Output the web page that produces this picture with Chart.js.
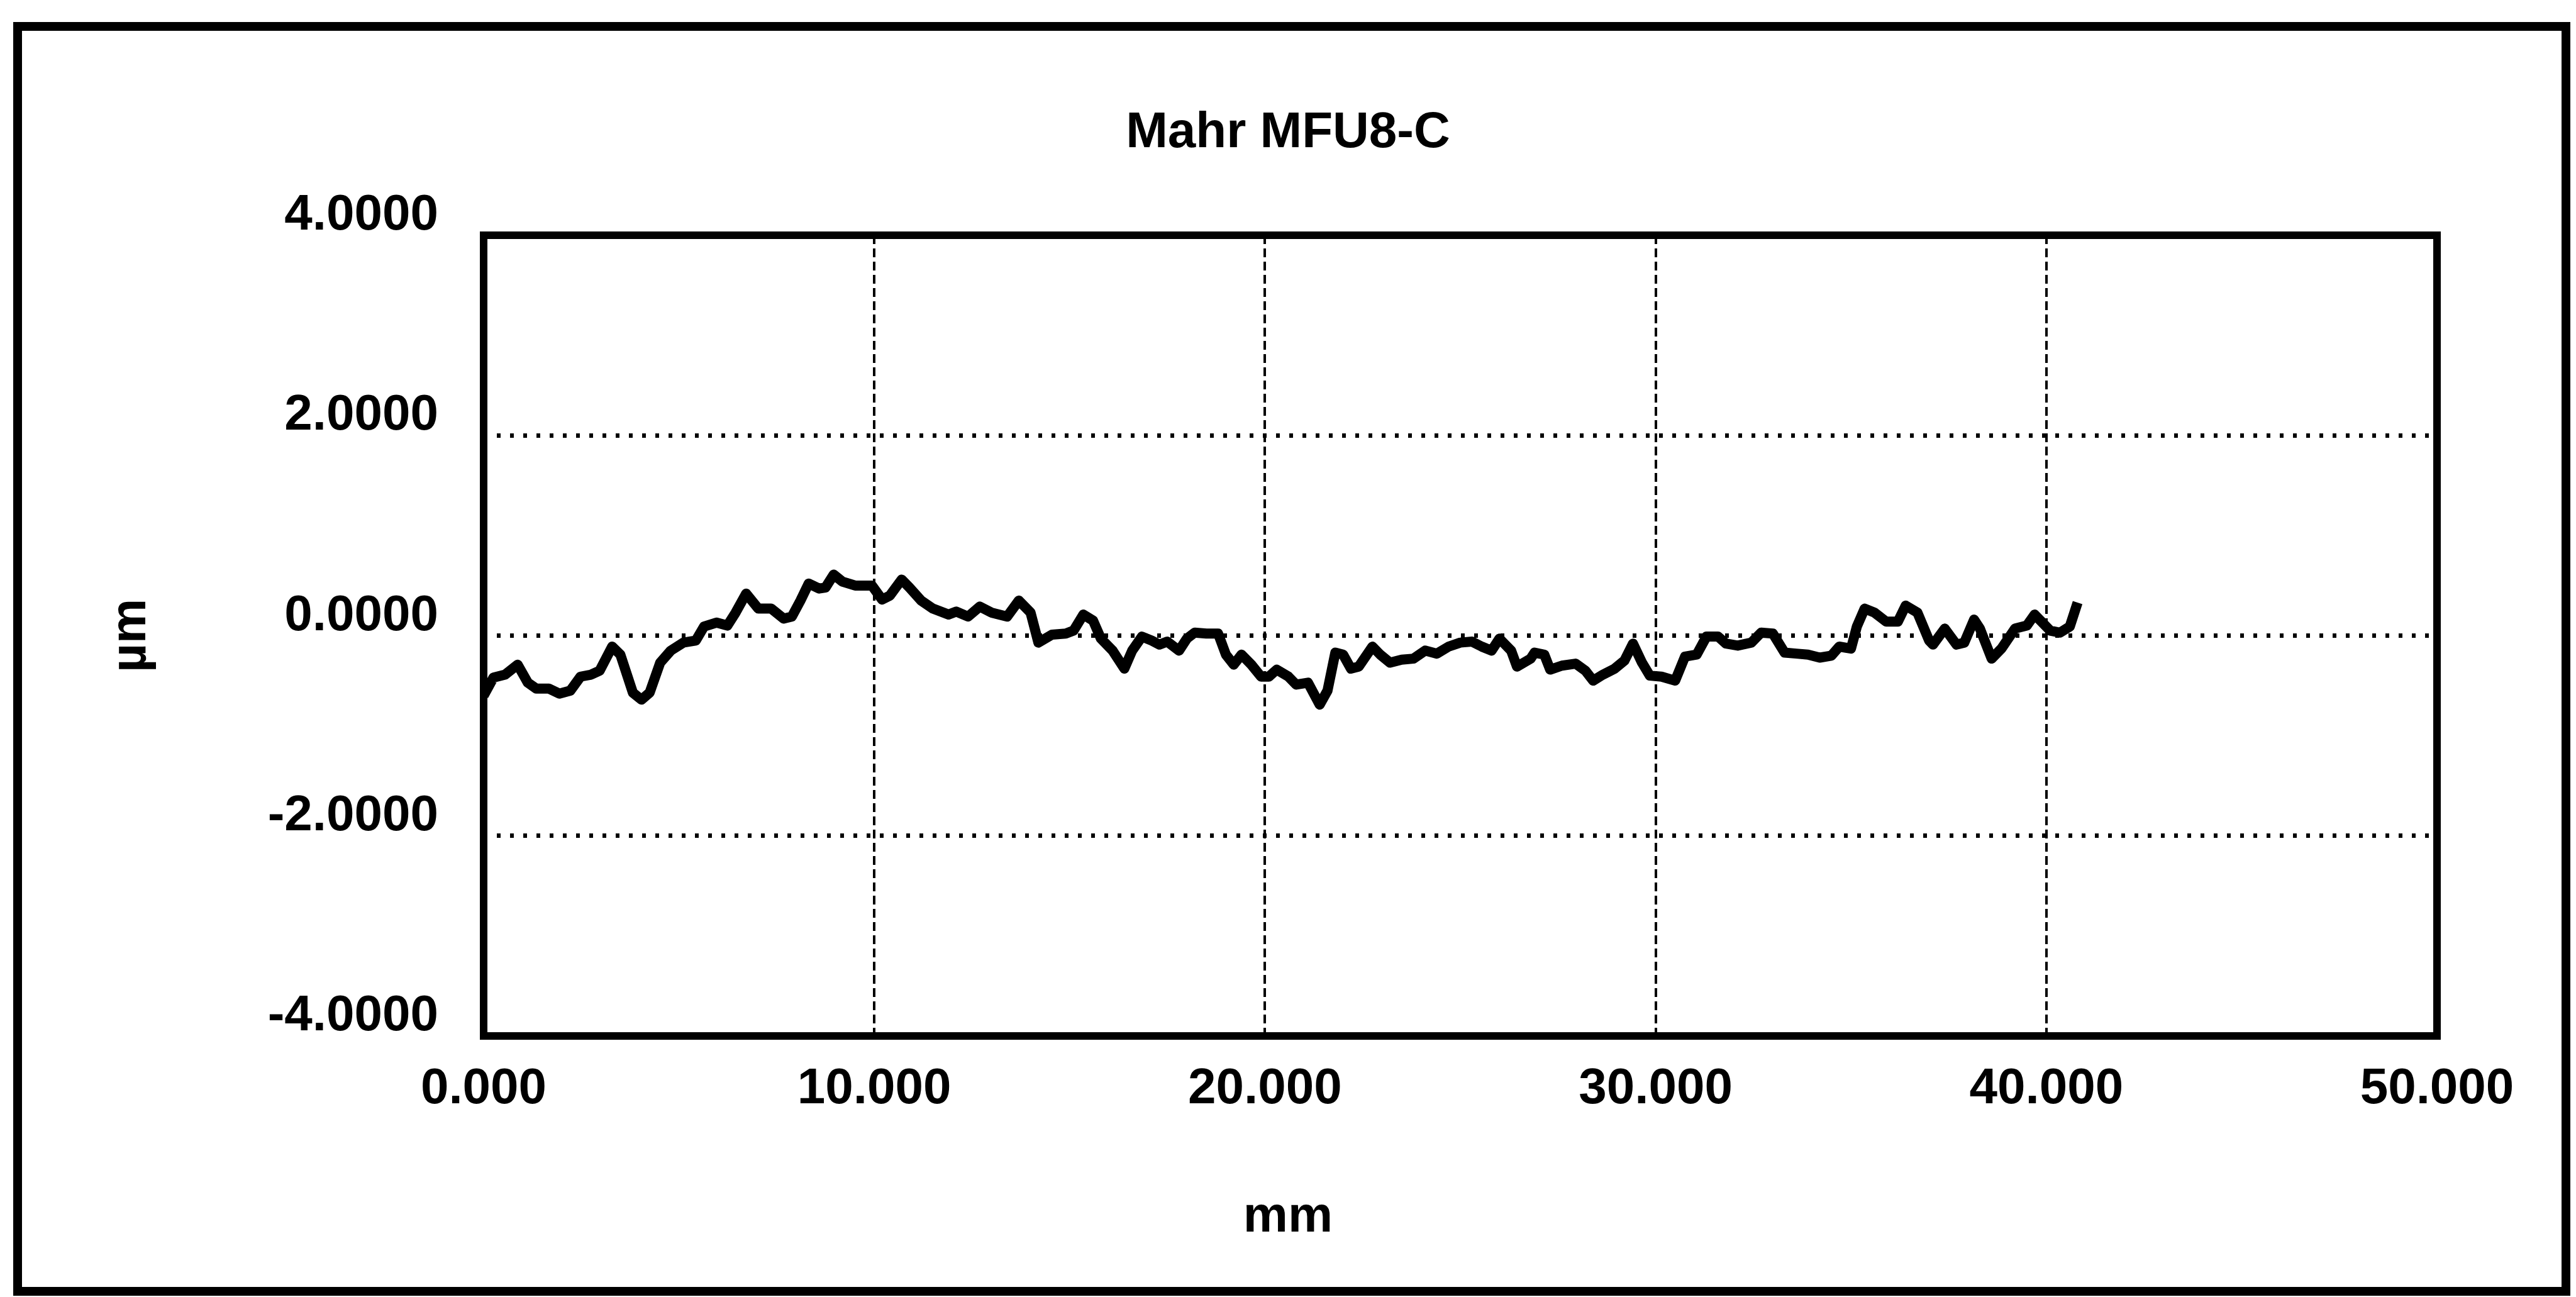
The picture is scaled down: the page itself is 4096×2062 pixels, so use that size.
<!DOCTYPE html>
<html>
<head>
<meta charset="utf-8">
<title>Mahr MFU8-C</title>
<script src="https://cdn.jsdelivr.net/npm/chart.js@4.4.1/dist/chart.umd.min.js"></script>
<style>
  html, body { margin: 0; padding: 0; background: #fff; }
  #wrap { width: 4096px; height: 2062px; }
</style>
</head>
<body>
<div id="wrap"><canvas id="profileChart" width="4096" height="2062"></canvas></div>
<script>
// profile data (mm / µm)
const posMm = [
  0.00, 0.25, 0.55, 0.87, 1.13, 1.35, 1.67, 1.94, 2.22, 2.48,
  2.75, 2.97, 3.29, 3.50, 3.82, 4.04, 4.25, 4.52, 4.79, 5.11,
  5.43, 5.64, 5.96, 6.24, 6.45, 6.72, 7.03, 7.36, 7.68, 7.89,
  8.11, 8.32, 8.59, 8.75, 8.96, 9.18, 9.51, 9.94, 10.20, 10.40,
  10.70, 10.90, 11.20, 11.50, 11.90, 12.10, 12.40, 12.70, 13.00, 13.40,
  13.70, 14.00, 14.20, 14.55, 14.90, 15.10, 15.35, 15.60, 15.80, 16.10,
  16.40, 16.60, 16.85, 17.10, 17.30, 17.50, 17.80, 18.00, 18.20, 18.50,
  18.80, 19.00, 19.20, 19.40, 19.65, 19.90, 20.10, 20.30, 20.60, 20.80,
  21.10, 21.40, 21.60, 21.80, 22.00, 22.20, 22.40, 22.75, 22.95, 23.20,
  23.50, 23.80, 24.10, 24.40, 24.70, 25.00, 25.30, 25.55, 25.80, 26.00,
  26.30, 26.45, 26.80, 26.90, 27.15, 27.30, 27.60, 27.95, 28.20, 28.40,
  28.65, 28.95, 29.20, 29.42, 29.65, 29.85, 30.15, 30.50, 30.75, 31.05,
  31.30, 31.60, 31.80, 32.10, 32.45, 32.70, 33.00, 33.30, 33.60, 33.90,
  34.20, 34.50, 34.70, 35.00, 35.15, 35.35, 35.60, 35.90, 36.20, 36.40,
  36.70, 37.00, 37.10, 37.40, 37.70, 37.90, 38.15, 38.30, 38.60, 38.85,
  39.20, 39.50, 39.70, 40.10, 40.35, 40.60, 40.80
];
const devUm = [
  -0.60, -0.42, -0.39, -0.29, -0.47, -0.53, -0.53, -0.58, -0.55, -0.41,
  -0.39, -0.35, -0.11, -0.19, -0.57, -0.64, -0.57, -0.27, -0.15, -0.07,
  -0.05, 0.09, 0.13, 0.10, 0.23, 0.42, 0.27, 0.27, 0.17, 0.19,
  0.35, 0.52, 0.47, 0.48, 0.61, 0.54, 0.50, 0.50, 0.36, 0.40,
  0.56, 0.48, 0.35, 0.27, 0.21, 0.24, 0.19, 0.29, 0.23, 0.19,
  0.35, 0.23, -0.07, 0.01, 0.02, 0.05, 0.21, 0.15, -0.03, -0.15,
  -0.33, -0.15, -0.01, -0.05, -0.09, -0.06, -0.15, -0.03, 0.03, 0.02,
  0.02, -0.19, -0.29, -0.19, -0.29, -0.41, -0.41, -0.34, -0.41, -0.49,
  -0.47, -0.69, -0.55, -0.17, -0.19, -0.33, -0.31, -0.11, -0.19, -0.27,
  -0.24, -0.23, -0.15, -0.18, -0.11, -0.07, -0.06, -0.11, -0.15, -0.03,
  -0.15, -0.31, -0.23, -0.17, -0.19, -0.34, -0.30, -0.28, -0.35, -0.45,
  -0.39, -0.33, -0.25, -0.08, -0.27, -0.40, -0.41, -0.45, -0.21, -0.19,
  -0.01, -0.01, -0.08, -0.10, -0.07, 0.03, 0.02, -0.17, -0.18, -0.19,
  -0.22, -0.20, -0.11, -0.13, 0.09, 0.27, 0.23, 0.14, 0.14, 0.30,
  0.23, -0.05, -0.09, 0.07, -0.09, -0.07, 0.16, 0.07, -0.23, -0.13,
  0.07, 0.10, 0.21, 0.05, 0.03, 0.09, 0.33
];
const xTicks = [0, 10, 20, 30, 40, 50];
const yTicks = [-4, -2, 0, 2, 4];

const FONT = 'Liberation Sans, Arial, Helvetica, sans-serif';
const txtFont = { family: FONT, size: 80, weight: 'bold' };

// borders: outer frame of the sheet and the plot box
const framePlugin = {
    id: 'frames',
    beforeDatasetsDraw(chart) {
        const { ctx, chartArea: a } = chart;
        ctx.save();
        ctx.strokeStyle = '#000';
        ctx.lineWidth = 12;
        ctx.strokeRect(a.left, a.top, a.right - a.left, a.bottom - a.top);
        ctx.restore();
    },
    afterDraw(chart) {
        const { ctx } = chart;
        ctx.save();
        ctx.strokeStyle = '#000';
        ctx.lineWidth = 14;
        ctx.strokeRect(28, 42, 4052, 2011);
        ctx.restore();
    }
};

const points = posMm.map((x, i) => ({ x: x, y: devUm[i] }));

const ctx = document.getElementById('profileChart').getContext('2d');
const profileChart = new Chart(ctx, {
    type: 'line',
    data: {
        datasets: [{
            label: 'Mahr MFU8-C',
            data: points,
            borderColor: '#000',
            borderWidth: 16,
            borderJoinStyle: 'round',
            pointRadius: 0,
            tension: 0,
            fill: false
        }]
    },
    options: {
        responsive: false,
        animation: false,
        devicePixelRatio: 1,
        layout: { padding: 0 },
        plugins: {
            legend: { display: false },
            tooltip: { enabled: false },
            title: {
                display: true,
                text: 'Mahr MFU8-C',
                color: '#000',
                font: txtFont,
                padding: { top: 164, bottom: 114 }
            },
            subtitle: {
                display: true,
                position: 'bottom',
                text: 'mm',
                color: '#000',
                font: txtFont,
                padding: { top: 41, bottom: 78 }
            }
        },
        scales: {
            x: {
                type: 'linear',
                min: 0,
                max: 50,
                afterBuildTicks(scale) { scale.ticks = xTicks.map(v => ({ value: v })); },
                afterFit(scale) { scale.height = 200; },
                ticks: {
                    color: '#000',
                    font: txtFont,
                    padding: 37,
                    maxRotation: 0,
                    autoSkip: false,
                    callback: v => Number(v).toFixed(3)
                },
                grid: { color: '#000', lineWidth: 4, drawTicks: false },
                border: { display: false, dash: [14, 7] }
            },
            y: {
                min: -4,
                max: 4,
                afterBuildTicks(scale) { scale.ticks = yTicks.map(v => ({ value: v })); },
                afterFit(scale) { scale.width = 769; },
                ticks: {
                    color: '#000',
                    font: txtFont,
                    padding: 72,
                    labelOffset: -31,
                    autoSkip: false,
                    callback: v => Number(v).toFixed(4)
                },
                grid: { color: '#000', lineWidth: 7, drawTicks: false },
                border: { display: false, dash: [6, 15] },
                title: {
                    display: true,
                    text: 'µm',
                    color: '#000',
                    font: txtFont,
                    padding: { top: 161, bottom: 0 }
                }
            },
            // empty right axis only to keep the plot box off the right edge
            yRight: {
                position: 'right',
                min: -4,
                max: 4,
                afterFit(scale) { scale.width = 221; },
                ticks: { display: false },
                grid: { display: false },
                border: { display: false }
            }
        }
    },
    plugins: [framePlugin]
});
</script>
</body>
</html>
